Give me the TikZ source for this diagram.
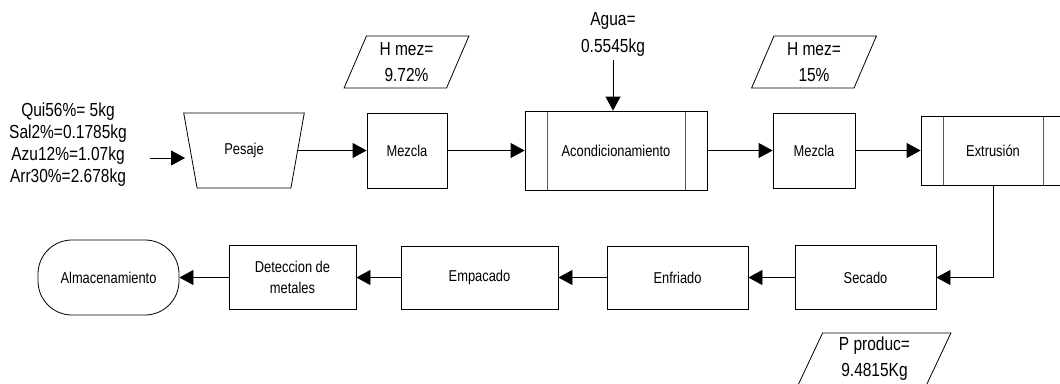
\documentclass[tikz,border=0pt]{standalone}
\usepackage{fontspec}
\setmainfont[FakeStretch=0.82]{Liberation Sans}
\usetikzlibrary{shapes.geometric,arrows.meta}

\tikzset{
	proc/.style={draw, rectangle, align=center, inner sep=0pt, font=\fontsize{15.7}{21}\selectfont},
	predef/.style={proc, path picture={
		\draw[gray!70!black] ([xshift=22pt]path picture bounding box.north west) -- ([xshift=22pt]path picture bounding box.south west);
		\draw[gray!70!black] ([xshift=-22pt]path picture bounding box.north east) -- ([xshift=-22pt]path picture bounding box.south east);}},
	datos/.style={draw, trapezium, trapezium left angle=69, trapezium right angle=111, trapezium stretches=true,
		minimum width=125pt, minimum height=52pt, inner sep=0pt, align=center, font=\fontsize{18.9}{26}\selectfont},
	nota/.style={align=center, font=\fontsize{18.9}{27}\selectfont},
	flecha/.style={-{Triangle[length=14pt,width=15pt]}},
}

\begin{document}
\begin{tikzpicture}[x=1pt, y=-1pt, line width=0.8pt]
	\useasboundingbox (0,0) rectangle (1060,383);
	
	% fila superior
	\node[nota, font=\fontsize{18.9}{22}\selectfont] (entrada) at (68,145) {Qui56\%= 5kg\\Sal2\%=0.1785kg\\Azu12\%=1.07kg\\Arr30\%=2.678kg};
	\coordinate (ent1) at (150,158);
	\coordinate (ent2) at (185,158);
	\node[proc, trapezium, trapezium left angle=111, trapezium right angle=111, trapezium stretches=true,
		minimum width=121pt, minimum height=75pt] (pesaje) at (244,150.5) {Pesaje};
	\node[proc, minimum width=80pt, minimum height=75pt] (mezcla1) at (407,150.5) {Mezcla};
	\node[predef, minimum width=182pt, minimum height=79pt] (acond) at (616,150.5) {Acondicionamiento};
	\node[proc, minimum width=82pt, minimum height=75pt] (mezcla2) at (814,150.5) {Mezcla};
	\node[predef, minimum width=144pt, minimum height=69pt] (extrusion) at (993,150.5) {Extrusión};
	\node[datos] (hmez1) at (406.5,62) {H mez=\\9.72\%};
	\node[datos] (hmez2) at (814,62) {H mez=\\15\%};
	\node[nota] (agua) at (613,34) {Agua=\\0.5545kg};
	
	% fila inferior
	\node[proc, minimum width=141pt, minimum height=64pt] (secado) at (865.5,277.5) {Secado};
	\node[proc, minimum width=141pt, minimum height=63pt] (enfriado) at (677.5,277.5) {Enfriado};
	\node[proc, minimum width=157pt, minimum height=63pt] (empacado) at (479.5,277.5) {Empacado};
	\node[proc, minimum width=127pt, minimum height=64pt] (deteccion) at (292.5,277.5) {Deteccion de\\metales};
	\node[proc, rounded corners=34pt, minimum width=141pt, minimum height=75pt] (almacen) at (108.5,277.5) {Almacenamiento};
	\node[datos, minimum width=153pt] (produc) at (874.5,359) {P produc=\\9.4815Kg};
	
	% flechas
	\draw[flecha] (ent1) -- (ent2);
	\draw[flecha] (pesaje.east) -- (mezcla1.west);
	\draw[flecha] (mezcla1) -- (acond);
	\draw[flecha] (acond) -- (mezcla2);
	\draw[flecha] (mezcla2) -- (extrusion);
	\draw[flecha] (agua.south) -- (agua.south |- acond.north);
	\draw[flecha] (extrusion.south) |- (secado.east);
	\draw[flecha] (secado) -- (enfriado);
	\draw[flecha] (enfriado) -- (empacado);
	\draw[flecha] (empacado) -- (deteccion);
	\draw[flecha] (deteccion) -- (almacen);
\end{tikzpicture}
\end{document}
